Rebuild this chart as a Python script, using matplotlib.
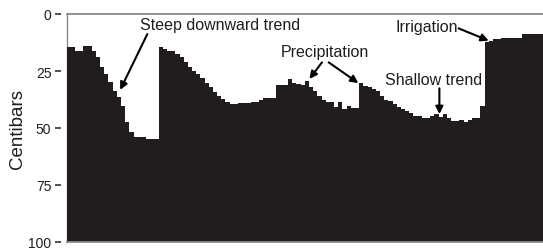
import numpy as np
import matplotlib.pyplot as plt

plt.rcParams['font.family'] = ['Liberation Sans', 'DejaVu Sans']

# soil moisture tension readings (centibars), one per step
centibars = [
    14.3, 14.3, 16.4, 16.4, 14.0, 14.0, 16.4, 19.0, 23.4, 26.3,
    30.0, 33.6, 36.5, 40.2, 47.5, 51.9, 54.1, 54.1, 54.1, 54.8,
    54.8, 54.8, 14.3, 15.4, 16.1, 16.1, 17.5, 19.0, 21.2, 23.1,
    24.9, 26.3, 28.0, 30.4, 32.2, 34.4, 35.8, 37.3, 38.7, 39.5,
    39.5, 39.2, 39.2, 39.2, 38.7, 38.7, 37.7, 36.8, 36.8, 36.8,
    31.0, 31.0, 31.0, 28.5, 30.4, 30.7, 31.0, 29.2, 31.9, 33.9,
    35.8, 37.7, 38.7, 38.7, 40.6, 38.7, 41.7, 40.2, 41.2, 41.2,
    30.4, 31.4, 31.9, 32.9, 33.9, 35.8, 37.7, 38.3, 39.5, 40.6,
    41.7, 42.4, 43.6, 44.6, 44.6, 45.6, 45.6, 44.6, 43.9, 45.3,
    43.9, 45.6, 46.8, 46.8, 46.5, 47.5, 46.5, 45.6, 45.6, 40.5,
    12.4, 12.0, 11.0, 11.0, 10.4, 10.4, 10.4, 10.4, 10.4, 8.6,
    8.6, 8.6, 8.6, 8.6,
]
yticks = [0, 25, 50, 75, 100]

ink = '#211d1e'
n = len(centibars)
edges = np.arange(n + 1)
vals = centibars + [centibars[-1]]

fig = plt.figure(figsize=(5.43, 2.51), dpi=100)
ax = fig.add_axes([66.7 / 543, 8 / 251, 476.3 / 543, 228 / 251])

ax.fill_between(edges, vals, 100, step='post', color=ink, linewidth=0)
ax.set_xlim(0, n)
ax.set_ylim(100, 0)

for s in ['top', 'bottom', 'right']:
    ax.spines[s].set_color('#8a8a8a')
    ax.spines[s].set_linewidth(1.3)
ax.spines['right'].set_visible(False)
ax.spines['left'].set_position(('outward', 4))
ax.spines['left'].set_visible(False)
ax.axvline(0, color='#8a8a8a', lw=1.0, clip_on=False, zorder=0)

ax.set_xticks([])
ax.set_yticks(yticks)
ax.tick_params(axis='y', length=4, width=1.2, color='#333333', pad=3,
               labelsize=10, labelcolor=ink)
ax.set_ylabel('Centibars', fontsize=13.5, color=ink)
ax.yaxis.set_label_coords(-0.085, 0.5)

arrow = dict(arrowstyle='-|>', color='black', lw=1.5, mutation_scale=11,
             shrinkA=0, shrinkB=0)
tfont = dict(fontsize=11.5, color=ink, ha='center', va='center')

ax.text(36.8, 4.8, 'Steep downward trend', **tfont)
ax.annotate('', xy=(12.8, 33.3), xytext=(19.3, 8.8), arrowprops=arrow)

ax.text(61.9, 16.4, 'Precipitation', **tfont)
ax.annotate('', xy=(58.1, 28.5), xytext=(61.1, 21.2), arrowprops=arrow)
ax.annotate('', xy=(69.8, 30.3), xytext=(62.7, 21.2), arrowprops=arrow)

ax.text(87.7, 28.9, 'Shallow trend', **tfont)
ax.annotate('', xy=(89.2, 43.9), xytext=(89.2, 32.6), arrowprops=arrow)

ax.text(86.1, 5.5, 'Irrigation', **tfont)
ax.annotate('', xy=(101.0, 11.7), xytext=(93.8, 6.3), arrowprops=arrow)

fig.savefig('out.png', dpi=100)
